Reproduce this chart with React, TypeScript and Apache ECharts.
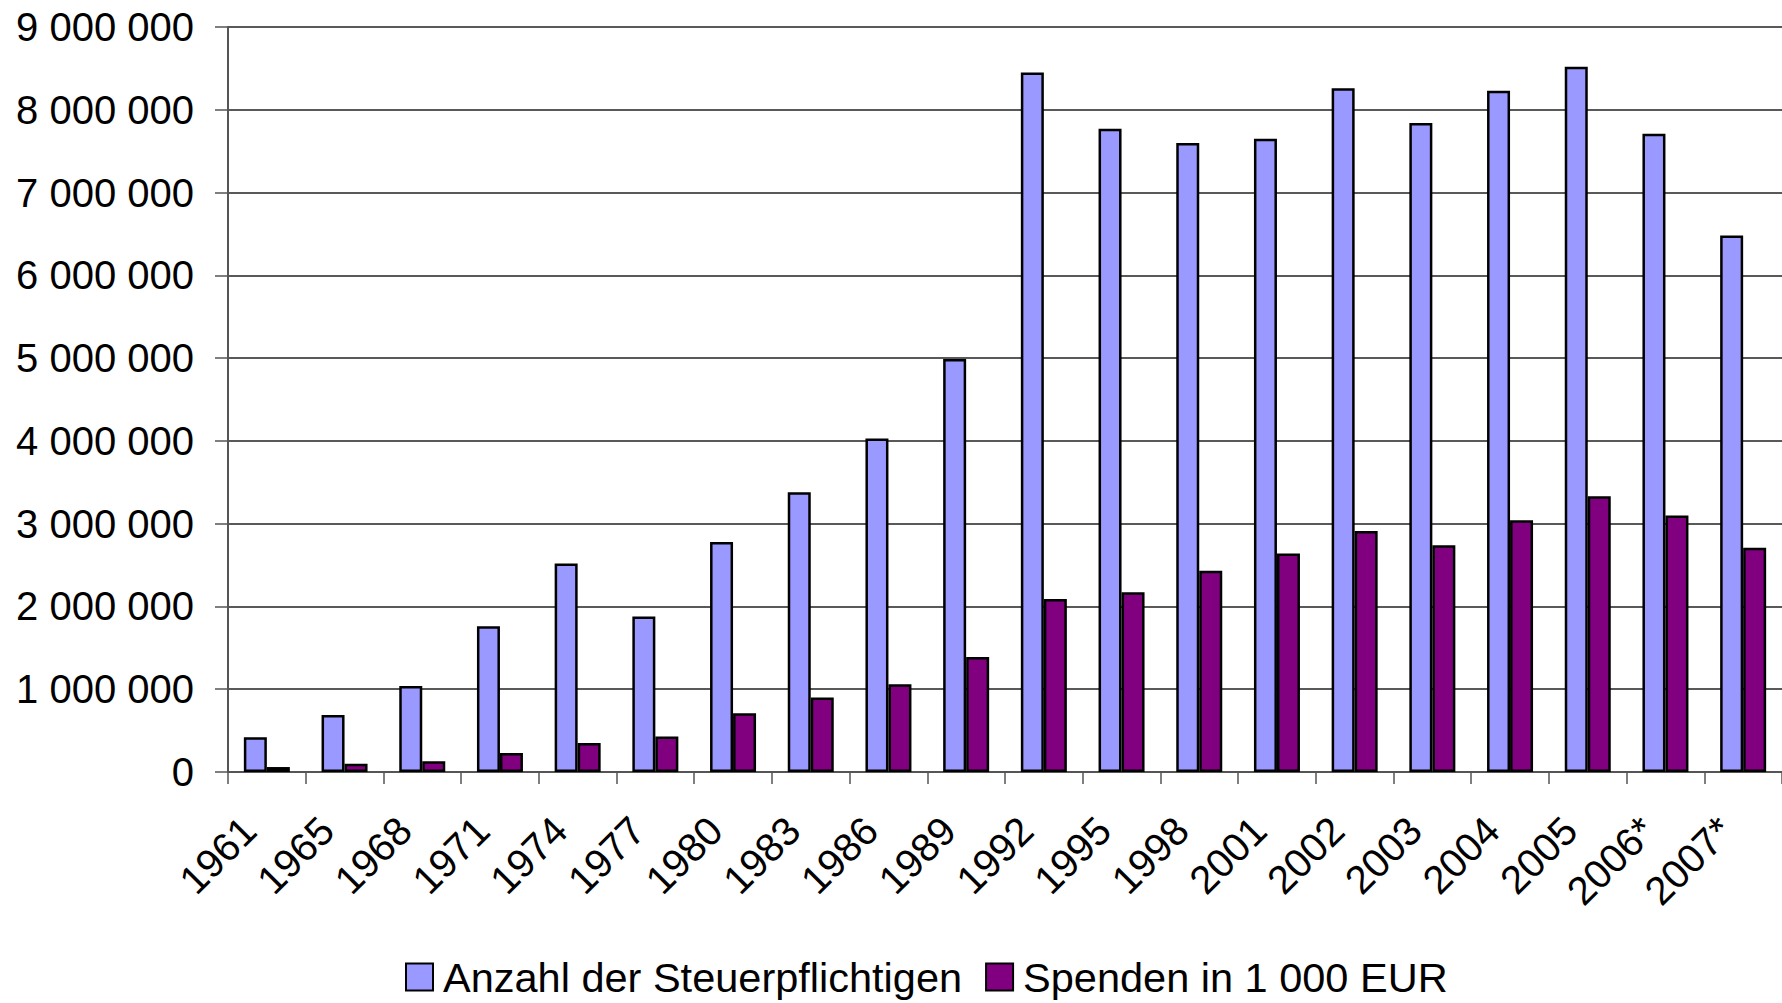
import React, { useEffect, useRef } from "react";
import * as echarts from "echarts";

const categories = ["1961", "1965", "1968", "1971", "1974", "1977", "1980", "1983", "1986", "1989", "1992", "1995", "1998", "2001", "2002", "2003", "2004", "2005", "2006*", "2007*"];
const steuerpflichtige = [420000, 690000, 1040000, 1760000, 2520000, 1880000, 2780000, 3380000, 4030000, 4990000, 8450000, 7770000, 7600000, 7650000, 8260000, 7840000, 8230000, 8520000, 7710000, 6480000];
const spenden = [60000, 100000, 130000, 230000, 350000, 430000, 710000, 900000, 1060000, 1390000, 2090000, 2170000, 2430000, 2640000, 2910000, 2740000, 3040000, 3330000, 3100000, 2710000];
const seriesNames = ["Anzahl der Steuerpflichtigen", "Spenden in 1 000 EUR"];
const colors = ["#9999FF", "#800080"];

const FONT = "'Liberation Sans', Arial, sans-serif";

function fmt(v: number): string {
  return String(Math.round(v)).replace(/\B(?=(\d{3})+(?!\d))/g, " ");
}

export default function App() {
  const ref = useRef<HTMLDivElement>(null);
  useEffect(() => {
    if (!ref.current) return;
    const chart = echarts.init(ref.current, null, { renderer: "svg" });
    chart.setOption({
      animation: false,
      backgroundColor: "#ffffff",
      textStyle: { fontFamily: FONT },
      grid: { left: 228, top: 27, bottom: 231, right: -10, containLabel: false },
      legend: {
        left: 405,
        top: 956,
        itemWidth: 27,
        itemHeight: 27,
        itemGap: 23,
        icon: "rect",
        padding: 0,
        textStyle: { fontFamily: FONT, fontSize: 41.5, color: "#000", padding: [0, 0, 0, 5] },
        data: seriesNames,
      },
      xAxis: {
        type: "category",
        data: categories,
        boundaryGap: true,
        axisLine: { lineStyle: { color: "#555", width: 2 } },
        axisTick: { show: true, length: 12, lineStyle: { color: "#555", width: 1.5 } },
        axisLabel: {
          rotate: 45,
          margin: 34,
          fontSize: 40,
          color: "#000",
          fontFamily: FONT,
          interval: 0,
          padding: [0, 25, 0, 0],
        },
      },
      yAxis: {
        type: "value",
        min: 0,
        max: 9000000,
        interval: 1000000,
        axisLine: { show: true, lineStyle: { color: "#555", width: 2 } },
        axisTick: { show: true, length: 13, lineStyle: { color: "#555", width: 1.5 } },
        axisLabel: {
          margin: 34,
          fontSize: 40,
          color: "#000",
          fontFamily: FONT,
          formatter: (v: number) => fmt(v),
        },
        splitLine: { show: true, lineStyle: { color: "#222", width: 1.5 } },
      },
      series: [
        {
          name: seriesNames[0],
          type: "bar",
          data: steuerpflichtige,
          barWidth: 23,
          barGap: "0%",
          itemStyle: { color: colors[0], borderColor: "#000", borderWidth: 2.5 },
        },
        {
          name: seriesNames[1],
          type: "bar",
          data: spenden,
          barWidth: 23,
          barGap: "0%",
          itemStyle: { color: colors[1], borderColor: "#000", borderWidth: 2.5 },
        },
      ],
    });
    return () => chart.dispose();
  }, []);
  return (
    <div style={{ position: "fixed", left: 0, top: 0, width: 1782, height: 1003, overflow: "hidden", background: "#fff" }}>
      <div ref={ref} style={{ width: 1782, height: 1003 }} />
    </div>
  );
}
